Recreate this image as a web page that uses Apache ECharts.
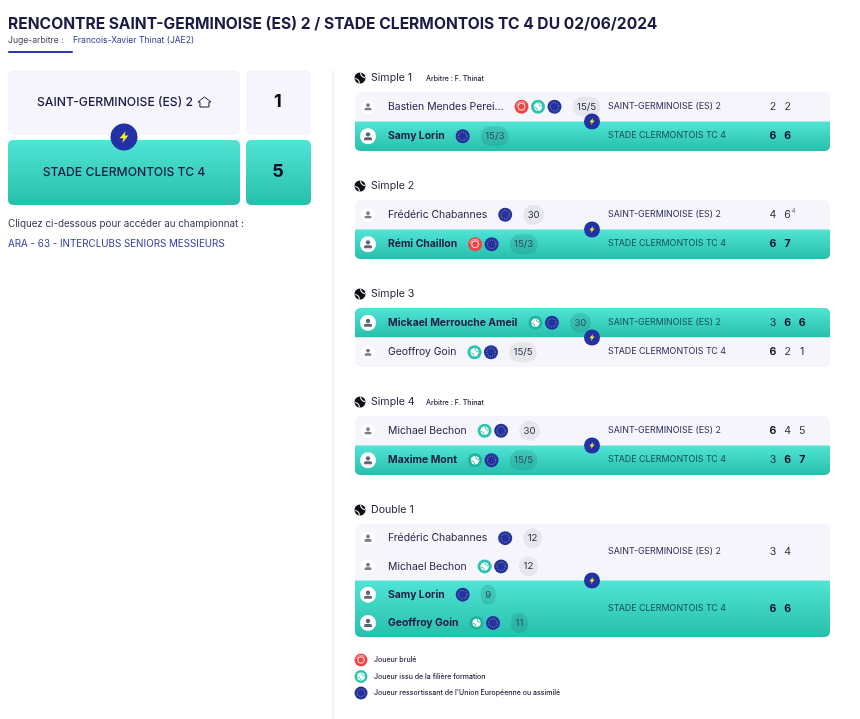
<!DOCTYPE html>
<html>
<head>
<meta charset="utf-8">
<title>Rencontre</title>
<script src="https://cdn.jsdelivr.net/npm/echarts@6/dist/echarts.min.js"></script>
<style>
  html, body { margin: 0; padding: 0; background: #fff; }
  #main { width: 860px; height: 719px; }
</style>
</head>
<body>
<div id="main"></div>
<script>
// data
const pageTitle = "RENCONTRE SAINT-GERMINOISE (ES) 2 / STADE CLERMONTOIS TC 4 DU 02/06/2024";
const refereeLabel = "Juge-arbitre :";
const refereeName = "Francois-Xavier Thinat (JAE2)";
const teams = ["SAINT-GERMINOISE (ES) 2", "STADE CLERMONTOIS TC 4"];
const teamScores = [1, 5];
const championshipHint = "Cliquez ci-dessous pour accéder au championnat :";
const championshipName = "ARA - 63 - INTERCLUBS SENIORS MESSIEURS";

const matchNames = ["Simple 1", "Simple 2", "Simple 3", "Simple 4", "Double 1"];
const matchUmpires = ["Arbitre : F. Thinat", "", "", "Arbitre : F. Thinat", ""];

const homePlayers = [
  ["Bastien Mendes Perei..."],
  ["Frédéric Chabannes"],
  ["Mickael Merrouche Ameil"],
  ["Michael Bechon"],
  ["Frédéric Chabannes", "Michael Bechon"]
];
const awayPlayers = [
  ["Samy Lorin"],
  ["Rémi Chaillon"],
  ["Geoffroy Goin"],
  ["Maxime Mont"],
  ["Samy Lorin", "Geoffroy Goin"]
];
const homeFlags = [
  [["burned", "formation", "eu"]],
  [["eu"]],
  [["formation", "eu"]],
  [["formation", "eu"]],
  [["eu"], ["formation", "eu"]]
];
const awayFlags = [
  [["eu"]],
  [["burned", "eu"]],
  [["formation", "eu"]],
  [["formation", "eu"]],
  [["eu"], ["formation", "eu"]]
];
const homeRanks = [["15/5"], ["30"], ["30"], ["30"], ["12", "12"]];
const awayRanks = [["15/3"], ["15/3"], ["15/5"], ["15/5"], ["9", "11"]];
const homeSets = [[2, 2], [4, 6], [3, 6, 6], [6, 4, 5], [3, 4]];
const awaySets = [[6, 6], [6, 7], [6, 2, 1], [3, 6, 7], [6, 6]];
const homeTiebreaks = [[], ["", 4], [], [], []];

const legendFlags = ["burned", "formation", "eu"];
const legendLabels = [
  "Joueur brulé",
  "Joueur issu de la filière formation",
  "Joueur ressortissant de l'Union Européenne ou assimilé"
];

// styles
const FONT = "Inter, 'Noto Sans', sans-serif";
const INK = "#1b1b45";
const BLUE = "#2231a4";
const LIGHT = "#f6f5fc";
const tealFill = () => new echarts.graphic.LinearGradient(0, 0, 0, 1, [
  { offset: 0, color: "#50e4d4" },
  { offset: 1, color: "#27bfab" }
]);

const measure = document.createElement("canvas").getContext("2d");
function textWidth(str, font) {
  measure.font = font;
  return measure.measureText(str).width;
}

const els = [];
function text(x, y, str, size, color, weight, align) {
  const font = (weight || 400) + " " + size + "px " + FONT;
  els.push({
    type: "text",
    style: {
      x: x, y: y, text: String(str), font: font, fill: color,
      align: align || "left", verticalAlign: "middle",
      textAlign: align || "left", textVerticalAlign: "middle"
    }
  });
  return font;
}
function rect(x, y, w, h, r, fill) {
  els.push({ type: "rect", shape: { x: x, y: y, width: w, height: h, r: r }, style: { fill: fill } });
}
function circle(cx, cy, r, style) {
  els.push({ type: "circle", shape: { cx: cx, cy: cy, r: r }, style: style });
}
function arc(cx, cy, r, a, b, color, w) {
  els.push({
    type: "arc",
    shape: { cx: cx, cy: cy, r: r, startAngle: a, endAngle: b },
    style: { stroke: color, lineWidth: w, fill: null }
  });
}

function bolt(cx, cy, r) {
  circle(cx, cy, r, { fill: BLUE });
  const s = r / 8;
  els.push({
    type: "polygon",
    shape: {
      points: [[1, -3.6], [-2.6, 0.7], [-0.4, 0.7], [-1, 3.6], [2.6, -0.9], [0.4, -0.9]]
        .map(p => [cx + p[0] * s, cy + p[1] * s])
    },
    style: { fill: "#f6ee2a" }
  });
}

function ball(cx, cy, r, fill, line) {
  circle(cx, cy, r, { fill: fill });
  arc(cx - r * 0.95, cy + r * 0.95, r * 0.85, -Math.PI / 2, 0, line, r * 0.2);
  arc(cx + r * 0.95, cy - r * 0.95, r * 0.85, Math.PI / 2, Math.PI, line, r * 0.2);
}

function flag(kind, cx, cy, r, onTeal) {
  if (kind === "burned") {
    circle(cx, cy, r, { fill: "#ee4548" });
    circle(cx, cy, r * 0.5, { fill: "none", stroke: "#fff", lineWidth: 0.9 });
    arc(cx, cy, r * 0.72, 3.4, 5.6, "#ffd6d6", 0.8);
  } else if (kind === "formation") {
    circle(cx, cy, r, { fill: onTeal ? "#1fb39f" : "#2cc4af" });
    ball(cx, cy, r * 0.6, "#fff", onTeal ? "#1fb39f" : "#2cc4af");
  } else {
    circle(cx, cy, r, { fill: BLUE });
    circle(cx, cy, r * 0.6, { fill: "none", stroke: "#d8c92a", lineWidth: 0.8, lineDash: [0.9, 1.3] });
  }
}

function person(cx, cy, r, onTeal) {
  circle(cx, cy, r, { fill: "#fff" });
  const c = onTeal ? "#5f6676" : "#767c8b";
  const s = r / 8;
  circle(cx, cy - 1.9 * s, 2.2 * s, { fill: c });
  rect(cx - 4 * s, cy + 1 * s, 8 * s, 3 * s, [1.5, 1.5, 0.4, 0.4], c);
}

// a row of the match block: avatar, name, flags and ranking
function playerRow(name, flags, rank, y, won) {
  person(368, y, won ? 8 : 7, won);
  const font = text(388, y, name, 10.4, INK, won ? 700 : 400);
  let x = 388 + textWidth(name, font) + 18;
  flags.forEach(f => {
    flag(f, x, y, 7, won);
    x += 16.5;
  });
  const rankFont = "400 9.6px " + FONT;
  const w = textWidth(rank, rankFont) + (rank.length > 2 ? 9 : 9);
  const left = x - 16.5 + 18;
  rect(left, y - 10, w, 20, 10, won ? "rgba(20,90,90,0.16)" : "#e6e7ec");
  text(left + w / 2, y, rank, 9.6, won ? "#2e4a60" : "#2a2a4a", 400, "center");
}

function sideBlock(top, h, team, names, flags, ranks, sets, opp, ties, won, position) {
  const rows = names.length;
  const r = position === 0 ? [5, 5, 0, 0] : [0, 0, 5, 5];
  rect(355, top, 475, h, r, won ? tealFill() : LIGHT);
  names.forEach((n, i) => {
    playerRow(n, flags[i], ranks[i], top + (i + 0.5) * h / rows, won);
  });
  const midY = top + h / 2 - 0.5;
  text(608, midY, team, 8.9, won ? "#15505a" : "#2c2c5c", 400);
  sets.forEach((v, i) => {
    const setX = 773 + i * 14.6;
    const setWon = v > opp[i];
    text(setX, midY + 0.5, v, 10.5, setWon ? "#0c0c20" : "#2a2a3c", setWon ? 700 : 400, "center");
    if (ties[i]) {
      text(setX + 4, midY - 3, ties[i], 6.5, "#6c7288", 400);
    }
  });
}

function buildPage() {
  // header
  text(8, 24, pageTitle, 15.6, INK, 700);
  text(8, 40, refereeLabel, 8.6, "#44445c", 400);
  text(73, 40, refereeName, 8.6, "#2c3aa6", 400);
  rect(8, 51, 65, 2, 1, "#2b3aa8");

  // score board on the left
  rect(8, 70, 232, 65, 5, LIGHT);
  rect(246, 70, 65, 65, 5, LIGHT);
  rect(8, 140, 232, 65, 5, tealFill());
  rect(246, 140, 65, 65, 5, tealFill());
  const homeFont = text(115, 102, teams[0], 12.2, INK, 500, "center");
  const homeEnd = 115 + textWidth(teams[0], homeFont) / 2;
  els.push({
    type: "polyline",
    shape: {
      points: [[0, 5], [6.5, 0], [13, 5], [11, 5], [11, 10], [2, 10], [2, 5], [0, 5]]
        .map(p => [homeEnd + 5 + p[0], 97 + p[1]])
    },
    style: { stroke: INK, lineWidth: 1, fill: "none" }
  });
  text(124, 172, teams[1], 12.2, INK, 500, "center");
  text(278, 102, teamScores[0], 18, "#0b0b1c", 700, "center");
  text(278, 172, teamScores[1], 18, "#0b0b1c", 700, "center");
  bolt(124, 137, 13.5);

  text(8, 224, championshipHint, 9.8, "#33334c", 400);
  text(8, 244, championshipName, 9.8, "#2c3aa6", 400);

  rect(332.5, 70, 1.5, 649, 0, "#f0f0f6");

  // matches
  matchNames.forEach((name, m) => {
    const headerY = 78 + m * 108;
    ball(360, headerY, 5.5, "#0d0d14", "#fff");
    text(371, headerY, name, 10.6, "#22223c", 400);
    if (matchUmpires[m]) {
      text(426, headerY + 1, matchUmpires[m], 7, "#22223c", 500);
    }
    const rowH = homePlayers[m].length > 1 ? 56.5 : 29.5;
    const top = headerY + 14;
    const homeWins = homeSets[m].filter((v, i) => v > awaySets[m][i]).length;
    const homeWon = homeWins > homeSets[m].length / 2;
    sideBlock(top, rowH, teams[0], homePlayers[m], homeFlags[m], homeRanks[m],
      homeSets[m], awaySets[m], homeTiebreaks[m], homeWon, 0);
    sideBlock(top + rowH, rowH, teams[1], awayPlayers[m], awayFlags[m], awayRanks[m],
      awaySets[m], homeSets[m], [], !homeWon, 1);
    bolt(592, top + rowH, 8);
  });

  // legend
  legendFlags.forEach((f, i) => {
    const y = 660 + i * 16.5;
    flag(f, 361, y, 6.5, false);
    text(374, y, legendLabels[i], 7, "#22223c", 500);
  });
}

buildPage();
const chart = echarts.init(document.getElementById("main"), null, { renderer: "canvas" });
chart.setOption({
  animation: false,
  backgroundColor: "#fff",
  graphic: { elements: els }
});
</script>
</body>
</html>
